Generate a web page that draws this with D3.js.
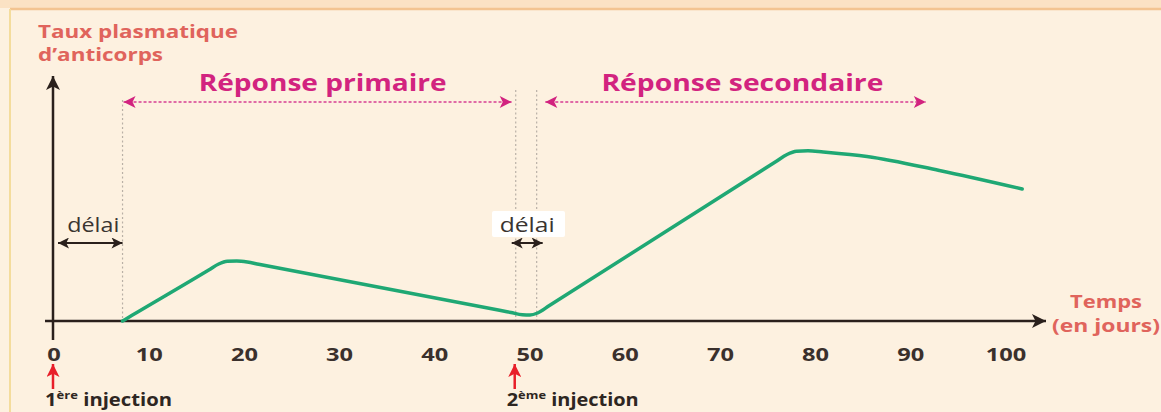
<!DOCTYPE html>
<html>
<head>
<meta charset="utf-8">
<script src="https://cdn.jsdelivr.net/npm/d3@7"></script>
<style>
  body { margin: 0; background: #fdf1e0; }
  svg { display: block; font-family: "Open Sans", sans-serif; }
</style>
</head>
<body>
<svg id="chart" width="1161" height="412"></svg>
<script>
// antibody curve (days, level in arbitrary units)
var days   = [7.2, 8.2, 16.3, 17.3, 18.2, 19.2, 20.3, 21.5, 46.8, 48, 49.2, 50, 50.8, 52, 75.8, 77.0, 78.0, 79.2, 80.8, 85.4, 93, 101.7];
var levels = [0,   2.26, 20.5, 22.8, 23.9, 24.0, 23.6, 22.7, 4.3, 3.4, 2.5, 2.4, 3.2, 6.1, 63.7, 66.6, 67.9, 68.1, 67.6, 65.8, 60.2, 52.8];
var tickDays = [0, 10, 20, 30, 40, 50, 60, 70, 80, 90, 100];
var injections = [0, 48.5];
var injectionLabels = [["1", "ère"], ["2", "ème"]];
var delayLines = [7.2, 48.5, 50.7];
var phases = [
  { label: "Réponse primaire",   from: 7.2,  to: 48.5, textX: 15.2, len: 248 },
  { label: "Réponse secondaire", from: 51.5, to: 92,   textX: 57.5, len: 282 }
];

var W = 1161, H = 412;
var svg = d3.select("#chart");

var x = d3.scaleLinear().domain([0, 100]).range([54, 1006]);
var y = d3.scaleLinear().domain([0, 100]).range([321, 71]);

var defs = svg.append("defs");
function marker(id, color, w, h) {
  defs.append("marker")
    .attr("id", id)
    .attr("viewBox", "0 0 10 10")
    .attr("refX", 10).attr("refY", 5)
    .attr("markerWidth", w).attr("markerHeight", h)
    .attr("markerUnits", "userSpaceOnUse")
    .attr("orient", "auto-start-reverse")
    .append("path")
    .attr("d", "M0,0 L10,5 L0,10 L2.5,5 Z")
    .attr("fill", color);
}
marker("axisArrow", "#2a201c", 16, 14);
marker("pinkArrow", "#d2237f", 15, 12);
marker("blackArrow", "#2a201c", 13, 11);
marker("redArrow", "#e81f2a", 13, 13);

// frame
svg.append("rect").attr("x", 0).attr("y", 0).attr("width", W).attr("height", H).attr("fill", "#fdf1e0");
svg.append("rect").attr("x", 0).attr("y", 0).attr("width", W).attr("height", 8).attr("fill", "#fbe2c4");
svg.append("line").attr("x1", 10).attr("x2", W).attr("y1", 9).attr("y2", 9)
  .attr("stroke", "#f3c491").attr("stroke-width", 2.5);
svg.append("line").attr("x1", 10).attr("x2", 10).attr("y1", 9).attr("y2", H)
  .attr("stroke", "#f4dc9c").attr("stroke-width", 2);

// dotted vertical guides
svg.selectAll(".guide").data(delayLines).enter().append("line")
  .attr("class", "guide")
  .attr("x1", function(d) { return x(d); }).attr("x2", function(d) { return x(d); })
  .attr("y1", function(d, i) { return i == 0 ? 100 : 90; }).attr("y2", y(0))
  .attr("stroke", "#b9b0a6").attr("stroke-width", 1.2).attr("stroke-dasharray", "2,2.5");

// axes
svg.append("line").attr("x1", x(0) - 1).attr("x2", x(0) - 1).attr("y1", 340).attr("y2", 76)
  .attr("stroke", "#2a201c").attr("stroke-width", 2.5).attr("marker-end", "url(#axisArrow)");
svg.append("line").attr("x1", 45).attr("x2", 1046).attr("y1", y(0)).attr("y2", y(0))
  .attr("stroke", "#2a201c").attr("stroke-width", 2.5).attr("marker-end", "url(#axisArrow)");

svg.selectAll(".tick").data(tickDays).enter().append("text")
  .attr("class", "tick")
  .attr("x", function(d) { return x(d); })
  .attr("y", 361)
  .attr("text-anchor", "middle")
  .attr("font-size", 18).attr("font-weight", 700).attr("fill", "#3a302c")
  .attr("textLength", function(d) { return String(d).length * 13.5; })
  .attr("lengthAdjust", "spacingAndGlyphs")
  .text(function(d) { return d; });

// axis titles
var red = "#e0645c";
function title(tx, ty, str, len) {
  svg.append("text").attr("x", tx).attr("y", ty).attr("font-size", 18).attr("font-weight", 700)
    .attr("fill", red)
    .attr("textLength", len).attr("lengthAdjust", "spacingAndGlyphs").text(str);
}
title(38, 38, "Taux plasmatique", 200);
title(38, 61, "d\u2019anticorps", 125);
title(1070, 308, "Temps", 72);
title(1052, 332, "(en jours)", 108);

// phases
var phaseG = svg.selectAll(".phase").data(phases).enter().append("g").attr("class", "phase");
phaseG.append("line")
  .attr("x1", function(d) { return x(d.from) + 1; }).attr("x2", function(d) { return x(d.to) - 4; })
  .attr("y1", 102).attr("y2", 102)
  .attr("stroke", "#e06aa6").attr("stroke-width", 2).attr("stroke-dasharray", "3,2")
  .attr("marker-start", "url(#pinkArrow)").attr("marker-end", "url(#pinkArrow)");
phaseG.append("text")
  .attr("x", function(d) { return x(d.textX); }).attr("y", 91)
  .attr("font-size", 24).attr("font-weight", 700).attr("fill", "#d2237f")
  .attr("textLength", function(d) { return d.len; })
  .attr("lengthAdjust", "spacingAndGlyphs")
  .text(function(d) { return d.label; });

// délai
svg.append("rect").attr("x", 492).attr("y", 211).attr("width", 73).attr("height", 26).attr("fill", "#ffffff").attr("rx", 2);
svg.append("text").attr("x", (x(0) + x(delayLines[0])) / 2 + 5).attr("y", 232).attr("text-anchor", "middle")
  .attr("font-size", 20).attr("fill", "#3a3430")
  .attr("textLength", 52).attr("lengthAdjust", "spacingAndGlyphs").text("délai");
svg.append("text").attr("x", (x(delayLines[1]) + x(delayLines[2])) / 2 + 1).attr("y", 232).attr("text-anchor", "middle")
  .attr("font-size", 20).attr("fill", "#3a3430")
  .attr("textLength", 55).attr("lengthAdjust", "spacingAndGlyphs").text("délai");
svg.append("line").attr("x1", x(0) + 4).attr("x2", x(delayLines[0]))
  .attr("y1", 243).attr("y2", 243).attr("stroke", "#2a201c").attr("stroke-width", 2)
  .attr("marker-start", "url(#blackArrow)").attr("marker-end", "url(#blackArrow)");
svg.append("line").attr("x1", x(delayLines[1]) - 4).attr("x2", x(delayLines[2]) + 6)
  .attr("y1", 243).attr("y2", 243).attr("stroke", "#2a201c").attr("stroke-width", 2)
  .attr("marker-start", "url(#blackArrow)").attr("marker-end", "url(#blackArrow)");

// curve
var pts = days.map(function(d, i) { return [d, levels[i]]; });
var line = d3.line()
  .x(function(d) { return x(d[0]); })
  .y(function(d) { return y(d[1]); })
  .curve(d3.curveMonotoneX);
svg.append("path").datum(pts).attr("d", line)
  .attr("fill", "none").attr("stroke", "#1fa874").attr("stroke-width", 3.5)
  .attr("stroke-linejoin", "round").attr("stroke-linecap", "round");

// injections
var inj = svg.selectAll(".inj").data(injections).enter().append("g").attr("class", "inj");
inj.append("line")
  .attr("x1", function(d) { return x(d) - 1; }).attr("x2", function(d) { return x(d) - 1; })
  .attr("y1", 389).attr("y2", 364)
  .attr("stroke", "#e81f2a").attr("stroke-width", 2.5).attr("marker-end", "url(#redArrow)");
var injText = inj.append("text")
  .attr("x", function(d) { return x(d) - 9; }).attr("y", 406)
  .attr("font-size", 17).attr("font-weight", 700).attr("fill", "#2e2622")
  .attr("textLength", function(d, i) { return i == 0 ? 127 : 132; })
  .attr("lengthAdjust", "spacingAndGlyphs");
injText.append("tspan").text(function(d, i) { return injectionLabels[i][0]; });
injText.append("tspan").attr("font-size", 11).attr("dy", -7).text(function(d, i) { return injectionLabels[i][1]; });
injText.append("tspan").attr("dy", 7).text(" injection");
</script>
</body>
</html>
